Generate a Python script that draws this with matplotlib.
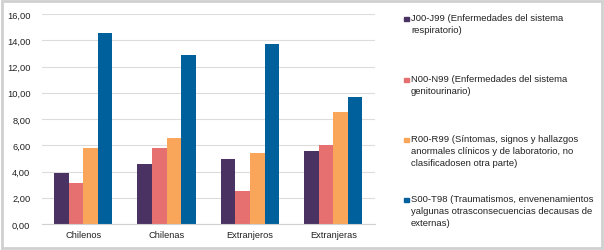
import numpy as np
import matplotlib
matplotlib.use("Agg")
import matplotlib.pyplot as plt
import matplotlib.patches as patches

plt.rcParams['font.family'] = ['Liberation Sans', 'DejaVu Sans']

categories = ['Chilenos', 'Chilenas', 'Extranjeros', 'Extranjeras']
j00_j99 = [3.87, 4.60, 4.98, 5.60]
n00_n99 = [3.15, 5.80, 2.54, 6.03]
r00_r99 = [5.80, 6.54, 5.40, 8.55]
s00_t98 = [14.55, 12.90, 13.74, 9.67]

series_labels = [
    'J00-J99 (Enfermedades del sistema\nrespiratorio)',
    'N00-N99 (Enfermedades del sistema\ngenitourinario)',
    'R00-R99 (Síntomas, signos y hallazgos\nanormales clínicos y de laboratorio, no\nclasificadosen otra parte)',
    'S00-T98 (Traumatismos, envenenamientos\nyalgunas otrasconsecuencias decausas de\nexternas)',
]
colors = ['#4a3262', '#e6706f', '#f9a65a', '#00609c']
y_ticks = [0, 2, 4, 6, 8, 10, 12, 14, 16]

fig = plt.figure(figsize=(6.04, 2.51), dpi=100)
fig.patch.set_facecolor('white')

# border round the whole chart
fig.patches.append(patches.Rectangle((0.004, 0.008), 0.992, 0.984, transform=fig.transFigure,
                                     fill=False, edgecolor='#d0d0d0', linewidth=2))

ax = fig.add_axes([41.5 / 604, 1 - 225 / 251, 333.5 / 604, 210 / 251])

x = np.arange(len(categories))
bw = 0.175
all_series = [j00_j99, n00_n99, r00_r99, s00_t98]
for i, vals in enumerate(all_series):
    ax.bar(x + (i - 1.5) * bw, vals, width=bw, color=colors[i], zorder=2)

ax.set_xlim(-0.5, len(categories) - 0.5)
ax.set_ylim(0, 16)
ax.set_yticks(y_ticks)
ax.set_yticklabels([f"{v:.2f}".replace('.', ',') for v in y_ticks], fontsize=6.7, color='#222222')
ax.set_xticks(x)
ax.set_xticklabels(categories, fontsize=6.7, color='#222222')
ax.tick_params(length=0, pad=4)
ax.tick_params(axis='y', pad=8)
ax.grid(axis='y', color='#dcdcdc', linewidth=0.8, zorder=0)
for s in ['top', 'right', 'left']:
    ax.spines[s].set_visible(False)
ax.spines['bottom'].set_color('#d0d0d0')
ax.spines['bottom'].set_linewidth(0.8)

# legend drawn by hand, entries spread evenly down the right side
first_line_px = [19, 80, 140, 200]
for lbl, c, cy in zip(series_labels, colors, first_line_px):
    fig.patches.append(patches.Rectangle((404 / 604, 1 - (cy + 2.5) / 251), 5 / 604, 4 / 251,
                                         transform=fig.transFigure, color=c))
    fig.text(411 / 604, 1 - (cy - 5) / 251, lbl, fontsize=6.8, va='top', ha='left',
             color='#222222', linespacing=1.42)

fig.savefig('out.png', dpi=100, facecolor='white')
